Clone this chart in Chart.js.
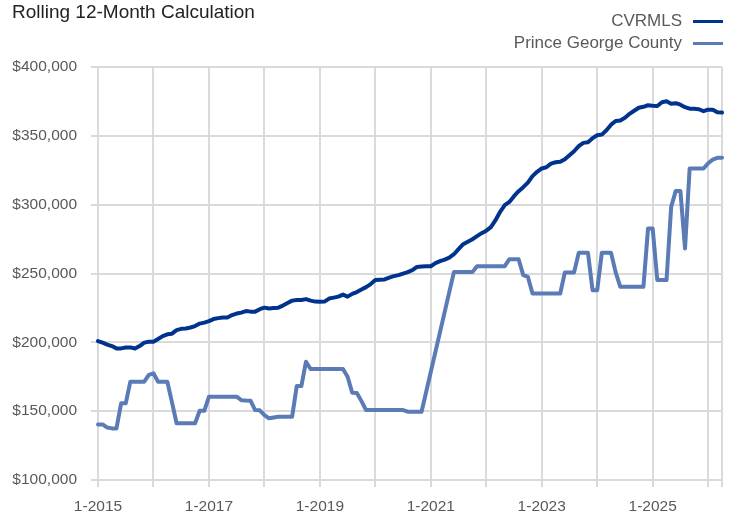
<!DOCTYPE html>
<html lang="en">
<head>
<meta charset="utf-8">
<title>Rolling 12-Month Calculation</title>
<script src="https://cdn.jsdelivr.net/npm/chart.js@4.4.1/dist/chart.umd.min.js"></script>
<style>
  html, body { margin: 0; padding: 0; background: #fff; }
  #quadro { position: relative; width: 733px; height: 515px; overflow: hidden; }
  #grafico { position: absolute; left: 0; top: 0; }
  .fonte { font-family: 'Liberation Sans', Arial, sans-serif; }
  #titulo { position: absolute; left: 12px; top: 1px; font-size: 19px; color: #222; line-height: 22px; }
  #legenda { position: absolute; right: 10px; top: 10px; font-size: 17px; color: #595959; }
  #legenda .item { display: flex; align-items: center; justify-content: flex-end; height: 22px; }
  #legenda .traco { display: inline-block; width: 30px; height: 3px; margin-left: 11px; }
</style>
</head>
<body>
<div id="quadro" class="fonte">
  <canvas id="grafico" width="733" height="515"></canvas>
  <div id="titulo">Rolling 12-Month Calculation</div>
  <div id="legenda"></div>
</div>
<script>
// Dados (mensal, 1-2015 até 4-2026)
const anoInicial = 2015;
const totalMeses = 136;
const meses = [];
for (let i = 0; i < totalMeses; i++) {
  meses.push(`${(i % 12) + 1}-${anoInicial + Math.floor(i / 12)}`);
}

const nomesSeries = ['CVRMLS', 'Prince George County'];

const valoresCvrmls = [
  200900, 199800, 198400, 197300, 195600, 195600, 196200, 196300, 195500, 197300, 199800, 200400,
  200400, 202400, 204500, 205800, 206300, 208900, 209800, 210100, 210800, 211800, 213600, 214300,
  215400, 216900, 217600, 218100, 218100, 219800, 220900, 221600, 222700, 222300, 222300, 224100,
  225200, 224600, 224900, 225200, 226700, 228500, 230300, 230700, 230700, 231400, 230300, 229600,
  229400, 229600, 231800, 232500, 233200, 234700, 233200, 235200, 236500, 238300, 240100, 242300,
  245200, 245500, 245700, 247000, 248100, 248800, 249900, 251000, 252400, 254800, 255100, 255300,
  255300, 257500, 259000, 260100, 261500, 264000, 267700, 271300, 273100, 274900, 277100, 279300,
  281100, 283700, 288700, 294800, 299600, 302000, 306200, 309800, 312700, 316000, 320700, 323900,
  326300, 327200, 329800, 330800, 331100, 333000, 335900, 338800, 342500, 344900, 345400, 348300,
  350400, 350900, 354100, 358100, 360800, 361200, 363100, 366000, 368200, 370400, 371100, 372200,
  371800, 371700, 374400, 375100, 373300, 373700, 372600, 370800, 369700, 369700, 369300, 367900,
  369000, 369000, 367100, 366900
];

// null = mês sem valor (a linha liga os pontos vizinhos)
const valoresPrinceGeorge = [
  140400, 140400, 138100, 137500, 137500, 155700, 155700, 171400, 171400, 171400, 171400, 176300,
  177500, 171400, 171400, 171400, 156600, 141200, 141200, 141200, 141200, 141200, 150300, 150300,
  160500, 160500, 160500, 160500, 160500, 160500, 160500, 158000, 157700, 157600, 150800, 150600,
  147200, 144800, 145400, 146000, 146000, 146000, 146000, 168200, 168200, 185900, 180600, 180600,
  180600, 180600, 180600, 180600, 180600, 180600, 175000, 163400, 163200, 157300, 150800, 150800,
  150800, 150800, 150800, 150800, 150800, 150800, 150800, 149600, 149600, 149600, 149600, null,
  null, null, null, null, null, 251000, 251000, 251000, 251000, 251000, 255300, 255300,
  255300, 255300, 255300, 255300, 255300, 260400, 260400, 260400, 248800, 247600, 235500, 235500,
  235500, 235500, 235500, 235500, 235500, 250800, 250800, 250800, 265000, 265000, 265000, 237900,
  237900, 265000, 265000, 265000, 250800, 240300, 240300, 240300, 240300, 240300, 240300, 282700,
  282700, 245200, 245200, 245200, 298400, 310000, 310000, 268200, 326300, 326300, 326300, 326300,
  330100, 332700, 334000, 334000
];

const ticksY = [100000, 150000, 200000, 250000, 300000, 350000, 400000];

// Cores e fontes
const cores = {
  cvrmls: '#00338d',
  princeGeorge: '#5a7bb5',
  grade: '#dadada',
  texto: '#595959'
};
const familiaFonte = "'Liberation Sans', Arial, sans-serif";

function formatarMoeda(valor) {
  return '$' + valor.toLocaleString('en-US');
}

const configGrafico = {
  type: 'line',
  data: {
    labels: meses,
    datasets: [
      {
        label: nomesSeries[0],
        data: valoresCvrmls,
        borderColor: cores.cvrmls,
        borderWidth: 4,
        pointRadius: 0,
        tension: 0,
        borderJoinStyle: 'round',
        borderCapStyle: 'round'
      },
      {
        label: nomesSeries[1],
        data: valoresPrinceGeorge,
        borderColor: cores.princeGeorge,
        borderWidth: 4,
        pointRadius: 0,
        tension: 0,
        spanGaps: true,
        borderJoinStyle: 'round',
        borderCapStyle: 'round'
      }
    ]
  },
  options: {
    responsive: false,
    animation: false,
    devicePixelRatio: 1,
    layout: { padding: { top: 67, right: 11, left: 0, bottom: 0 } },
    plugins: {
      legend: { display: false },
      title: { display: false },
      tooltip: { enabled: false }
    },
    scales: {
      x: {
        type: 'category',
        afterFit: escala => { escala.height = 35; },
        grid: {
          color: ctx => (ctx.index % 12 === 0 || ctx.index === totalMeses - 1) ? cores.grade : 'transparent',
          lineWidth: 2,
          tickLength: 7
        },
        border: { color: cores.grade, width: 2 },
        ticks: {
          autoSkip: false,
          maxRotation: 0,
          padding: 10,
          color: cores.texto,
          font: { family: familiaFonte, size: 15.5 },
          callback: function (valor, indice) {
            return indice % 24 === 0 ? this.getLabelForValue(valor) : '';
          }
        }
      },
      y: {
        min: ticksY[0],
        max: ticksY[ticksY.length - 1],
        afterFit: escala => { escala.width = 98; },
        afterBuildTicks: escala => { escala.ticks = ticksY.map(v => ({ value: v })); },
        grid: { color: cores.grade, lineWidth: 2, tickLength: 7 },
        border: { color: cores.grade, width: 2 },
        ticks: {
          padding: 14,
          color: cores.texto,
          font: { family: familiaFonte, size: 15.5 },
          callback: valor => formatarMoeda(valor)
        }
      }
    }
  }
};

// Legenda à direita: texto e depois o traço da série
function montarLegenda(grafico) {
  const caixa = document.getElementById('legenda');
  caixa.innerHTML = '';
  grafico.data.datasets.forEach(ds => {
    const item = document.createElement('div');
    item.className = 'item';
    item.innerHTML = `<span>${ds.label}</span><span class="traco" style="background:${ds.borderColor}"></span>`;
    caixa.appendChild(item);
  });
}

document.addEventListener('DOMContentLoaded', () => {
  const ctx = document.getElementById('grafico').getContext('2d');
  const grafico = new Chart(ctx, configGrafico);
  montarLegenda(grafico);
});
</script>
</body>
</html>
